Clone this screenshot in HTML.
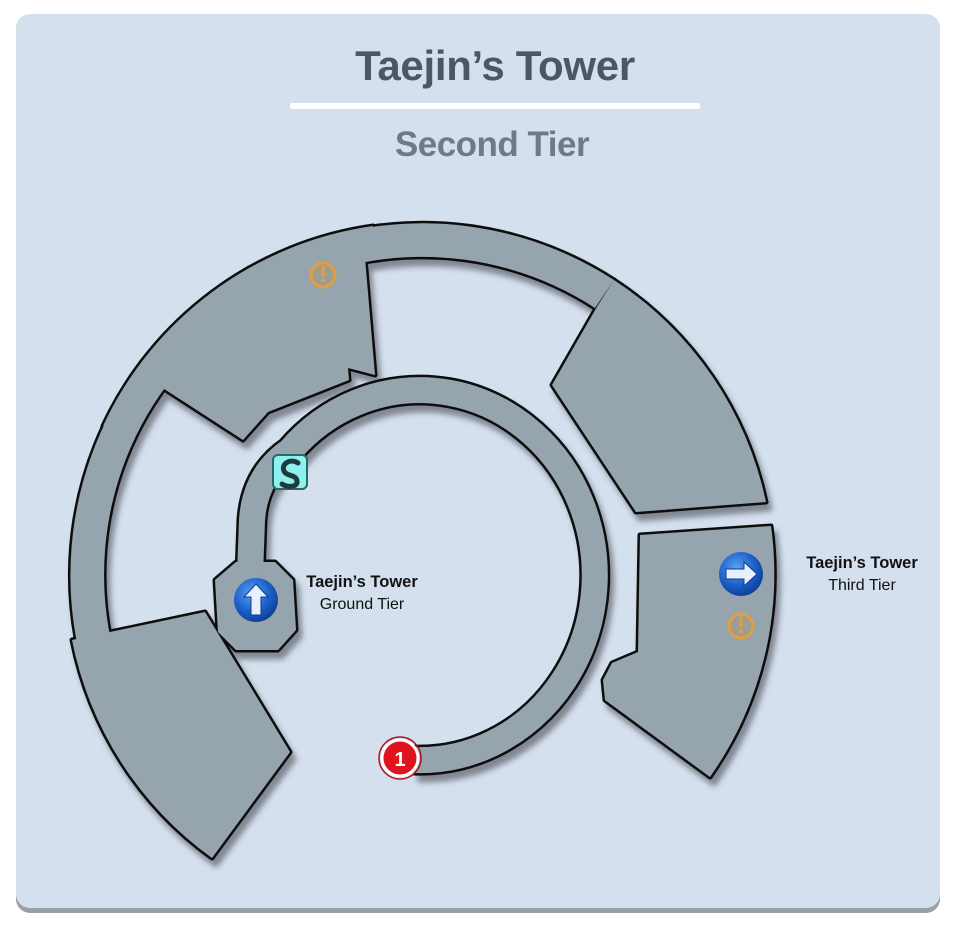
<!DOCTYPE html>
<html><head><meta charset="utf-8"><style>
html,body{margin:0;padding:0;background:#fff;}
body{width:960px;height:936px;position:relative;overflow:hidden;font-family:"Liberation Sans",sans-serif;}
.card{position:absolute;left:16px;top:14px;width:924px;height:894px;background:#d5e0ee;border-radius:14px;box-shadow:0 5px 0 #9aa0a8;}
.t1{position:absolute;left:0;width:990px;top:42px;text-align:center;font-weight:bold;font-size:42px;color:#4a5866;letter-spacing:-0.3px;}
.line{position:absolute;left:290px;top:103px;width:410px;height:6px;background:#fff;border-radius:2px;}
.t2{position:absolute;left:0;width:984px;top:125px;text-align:center;font-weight:bold;font-size:35px;color:#6f7a85;letter-spacing:-0.5px;}
.lbl{position:absolute;text-align:center;font-size:16px;color:#111;line-height:22px;}
.lbl b{font-size:16.5px;}
</style></head><body>
<div class="card"></div>
<div class="t1">Taejin’s Tower</div>
<div class="line"></div>
<div class="t2">Second Tier</div>
<svg width="960" height="936" style="position:absolute;left:0;top:0">
<defs>
<filter id="sh" x="-10%" y="-10%" width="130%" height="130%"><feDropShadow dx="4" dy="7" stdDeviation="3" flood-color="#3a3f48" flood-opacity="0.55"/></filter>
<radialGradient id="bl" cx="40%" cy="35%" r="70%"><stop offset="0" stop-color="#5aa0f0"/><stop offset="0.6" stop-color="#1a5fc8"/><stop offset="1" stop-color="#0c3c90"/></radialGradient>
<g id="shapes">
<path d="M78,648 A352,352 0 0 1 614,280 L595,308 A318,318 0 0 0 111,641 Z"/>
<path d="M103,426 A352,352 0 0 1 373,226 L365,258 L375,375 L348,368 L349,380 L268,412 L243,440 L158,385 Z"/>
<path d="M598,305 L614,280 A352,352 0 0 1 766,502 L636,512 L552,385 Z"/>
<path d="M640,535 L771,526 A352,352 0 0 1 710,777 L605,700 L603,680 L612,663 L638,652 Z"/>
<path d="M72,640 L205,612 L290,752 L212,858 A352,352 0 0 1 72,640 Z"/>
<path d="M236,562 L275,562 L293,580 L296,630 L278,650 L236,650 L218,632 L215,580 Z"/>
</g>
</defs>
<g filter="url(#sh)">
<use href="#shapes" fill="#111" stroke="#111" stroke-width="5" stroke-linejoin="round"/>
<path d="M250,575 L252,520 Q255,475 290,451 A175,185 0 1 1 414,760" fill="none" stroke="#111" stroke-width="31"/>
<use href="#shapes" fill="#95a4ad"/>
<path d="M250,575 L252,520 Q255,475 290,451 A175,185 0 1 1 414,760" fill="none" stroke="#95a4ad" stroke-width="26"/>
</g>
<!-- warning icons -->
<g>
<circle cx="323" cy="275" r="12" fill="#a09d90" stroke="#e0a040" stroke-width="3"/>
<rect x="321.5" y="266" width="3" height="10" rx="1" fill="#e0a040"/>
<circle cx="323" cy="280.5" r="1.8" fill="#e0a040"/>
<circle cx="741" cy="626" r="12" fill="#a09d90" stroke="#e0a040" stroke-width="3"/>
<rect x="739.5" y="617" width="3" height="10" rx="1" fill="#e0a040"/>
<circle cx="741" cy="631.5" r="1.8" fill="#e0a040"/>
</g>
<!-- blue arrows -->
<circle cx="256" cy="600" r="22" fill="url(#bl)"/>
<path d="M256,584 L268,597 L261,597 L261,615 L251,615 L251,597 L244,597 Z" fill="#e8f0ff" stroke="#0c3c90" stroke-width="1"/>
<circle cx="741" cy="574" r="22" fill="url(#bl)"/>
<path d="M757,574 L744,562 L744,569 L726,569 L726,579 L744,579 L744,586 Z" fill="#e8f0ff" stroke="#0c3c90" stroke-width="1"/>
<!-- S icon -->
<rect x="273" y="455" width="34" height="34" rx="5" fill="#8ff0f0" stroke="#2a6868" stroke-width="2"/>
<path d="M298,463 C290,458 281,464 284,471 C287,477 296,474 297,481 C298,487 288,488 282,484" fill="none" stroke="#1f3a3a" stroke-width="5" stroke-linecap="round"/>
<!-- red 1 -->
<circle cx="400" cy="758" r="18" fill="#e0141e" stroke="#fff" stroke-width="3"/>
<circle cx="400" cy="758" r="21" fill="none" stroke="#b01018" stroke-width="1.5"/>
<text x="400" y="766" font-family="Liberation Sans" font-weight="bold" font-size="20" fill="#fff" text-anchor="middle">1</text>
</svg>
<div class="lbl" style="left:292px;top:571px;width:140px;"><b>Taejin’s Tower</b><br>Ground Tier</div>
<div class="lbl" style="left:792px;top:552px;width:140px;"><b>Taejin’s Tower</b><br>Third Tier</div>
</body></html>
